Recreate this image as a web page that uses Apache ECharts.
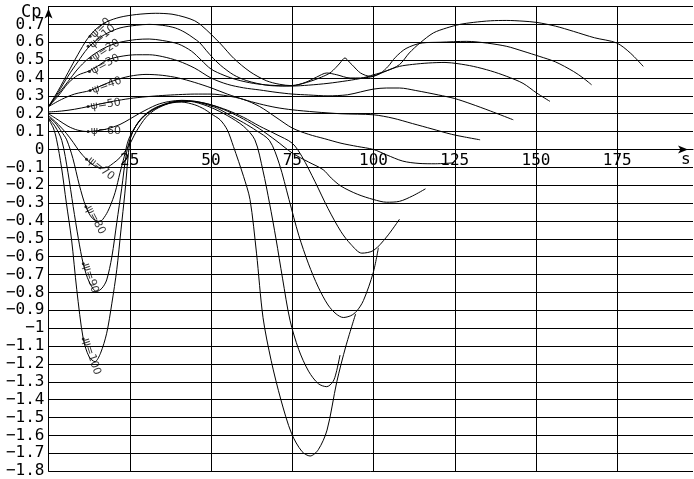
<!DOCTYPE html>
<html><head><meta charset="utf-8">
<script src="https://cdn.jsdelivr.net/npm/echarts@6/dist/echarts.min.js"></script>
<style>html,body{margin:0;padding:0;background:#fff}#c{width:694px;height:479px}</style>
</head><body><div id="c"></div><script>
// s values / Cp values
const psi0 = [[0,0.24],[3,0.33],[6,0.43],[9,0.53],[12,0.62],[15,0.68],[18,0.715],[22,0.74],[27,0.755],[33,0.762],[38,0.757],[42,0.74],[45,0.72],[47,0.695],[50,0.645],[53,0.59],[57,0.51],[62,0.435],[67,0.385],[71,0.365],[75,0.357],[79,0.375],[82.5,0.405],[85.6,0.428],[88.7,0.418],[92.8,0.40],[96,0.40],[100,0.418],[104,0.44],[108,0.475],[111,0.54],[114.3,0.596],[118.4,0.652],[122.5,0.68],[126.6,0.70],[130.7,0.711],[136,0.72],[141,0.722],[146,0.718],[150.2,0.711],[156,0.69],[161.5,0.661],[168,0.625],[174.8,0.596],[179,0.54],[183,0.465]];
const psi10 = [[0,0.24],[3,0.32],[6,0.41],[9,0.49],[12,0.565],[15,0.615],[18,0.65],[22,0.68],[27,0.695],[31,0.70],[35,0.695],[39,0.68],[42,0.655],[44.5,0.625],[46.6,0.596],[48.5,0.555],[50.7,0.51],[53,0.47],[56.9,0.418],[61,0.385],[67,0.36],[72,0.355],[76,0.36],[80.5,0.381],[84,0.405],[86.6,0.428],[88.5,0.46],[89.7,0.484],[91.2,0.512],[92.5,0.49],[93.4,0.474],[96,0.428],[99.1,0.409],[102.2,0.428],[104.5,0.465],[106.7,0.515],[110,0.565],[115,0.596],[120.5,0.6],[128.7,0.605],[135,0.595],[141,0.577],[146,0.55],[151.2,0.52],[156,0.49],[161.5,0.437],[164.5,0.40],[167.1,0.362]];
const psi20 = [[0,0.24],[3,0.31],[6,0.38],[9,0.45],[12,0.505],[15,0.545],[18,0.575],[22,0.60],[27,0.615],[31,0.618],[35,0.61],[40,0.59],[44,0.55],[47,0.50],[50,0.45],[54,0.415],[58,0.39],[63,0.37],[68,0.36],[75,0.355],[80,0.36],[86,0.37],[92,0.385],[97,0.40],[100,0.409],[104,0.44],[108,0.465],[112,0.476],[117,0.484],[122,0.487],[126,0.48],[130.7,0.465],[136,0.44],[141,0.409],[146,0.37],[150.2,0.316],[154.3,0.269]];
const psi30 = [[0,0.24],[3,0.30],[6,0.37],[9,0.415],[12.6,0.44],[15,0.465],[18,0.50],[22,0.52],[27,0.53],[31,0.53],[35,0.52],[40,0.495],[45,0.455],[50,0.40],[55,0.365],[60,0.345],[65,0.333],[70,0.32],[75,0.31],[80,0.305],[86,0.30],[92,0.306],[96,0.322],[100,0.338],[104,0.344],[108,0.344],[113,0.33],[120,0.305],[125,0.285],[130,0.255],[136,0.215],[143,0.166]];
const psi40 = [[0,0.24],[4,0.28],[8,0.31],[12.8,0.33],[16,0.355],[20,0.385],[25,0.41],[30,0.42],[35,0.415],[40,0.40],[45,0.375],[50,0.345],[55,0.31],[60,0.28],[65,0.255],[70,0.235],[75,0.222],[82,0.21],[90,0.20],[100,0.194],[106,0.175],[112,0.145],[118,0.115],[124,0.085],[128,0.07],[132.8,0.054]];
const psi50 = [[0,0.21],[4,0.215],[8,0.225],[12.2,0.24],[16,0.255],[20,0.27],[25,0.285],[30,0.295],[35,0.302],[40,0.307],[45,0.31],[50,0.31],[55,0.30],[60,0.28],[65,0.24],[70,0.18],[75,0.12],[80,0.085],[85,0.06],[90,0.035],[95,0.017],[100,0.0],[104,-0.03],[109,-0.065],[114,-0.078],[119,-0.08],[124.5,-0.075]];
const psi60 = [[0,0.20],[3,0.165],[6,0.13],[9,0.108],[12.2,0.10],[15,0.105],[18,0.115],[22,0.14],[25,0.17],[28.2,0.204],[33.3,0.25],[37,0.268],[41,0.275],[45,0.27],[50,0.25],[55,0.215],[60,0.17],[65,0.115],[70,0.05],[75,-0.02],[80,-0.07],[84.5,-0.113],[87,-0.16],[90,-0.205],[95,-0.25],[100,-0.28],[104,-0.295],[108,-0.29],[112,-0.26],[116,-0.22]];
const psi70 = [[0,0.19],[3,0.14],[5.5,0.09],[7.6,0.04],[9.5,-0.01],[11.7,-0.055],[14,-0.09],[15.8,-0.104],[18,-0.10],[20,-0.076],[22,-0.045],[24.6,0.017],[27,0.10],[30,0.18],[33,0.225],[37,0.257],[41,0.27],[45,0.268],[50,0.25],[55,0.22],[60,0.18],[65,0.13],[70,0.085],[75,0.035],[78,-0.04],[82,-0.18],[86,-0.33],[90,-0.46],[93,-0.53],[96.4,-0.58],[100,-0.565],[104,-0.49],[108,-0.39]];
const psi80 = [[0,0.18],[2,0.15],[4,0.10],[5.6,0.054],[7.5,-0.05],[9.5,-0.20],[11.5,-0.32],[13.5,-0.385],[15.8,-0.403],[17.5,-0.37],[18.9,-0.32],[20.5,-0.24],[22,-0.13],[23.3,-0.04],[24.6,0.054],[26.5,0.12],[29,0.18],[32,0.22],[36,0.255],[40,0.27],[44,0.27],[48,0.255],[52,0.23],[56,0.19],[60,0.15],[64,0.105],[68,0.05],[71,-0.08],[74,-0.28],[77,-0.48],[80,-0.64],[83,-0.77],[86,-0.87],[88.5,-0.92],[90.7,-0.94],[93,-0.93],[94.8,-0.905],[96.9,-0.845],[99.9,-0.69],[101.5,-0.55]];
const psi90 = [[0,0.175],[2,0.13],[4.1,0.05],[6,-0.13],[7.6,-0.32],[9.2,-0.50],[10.7,-0.64],[12.5,-0.74],[14.8,-0.795],[16.5,-0.775],[17.9,-0.73],[19.5,-0.60],[21,-0.41],[22.5,-0.22],[24,-0.02],[25.5,0.08],[27.5,0.15],[30,0.20],[33,0.235],[37,0.26],[41,0.272],[45,0.265],[50,0.235],[55,0.19],[60,0.13],[63.5,0.054],[66,-0.12],[68,-0.30],[70,-0.50],[72,-0.72],[74.3,-0.955],[77,-1.12],[80,-1.24],[83,-1.31],[85.6,-1.327],[87.5,-1.30],[88.5,-1.25],[89.7,-1.15]];
const psi100 = [[0,0.17],[1.5,0.12],[2.5,0.054],[4,-0.10],[5.5,-0.30],[7.1,-0.505],[8.7,-0.785],[10.7,-1.06],[12.5,-1.16],[14.3,-1.187],[16,-1.14],[17.9,-1.028],[19.5,-0.86],[21,-0.673],[22.3,-0.45],[23.5,-0.244],[25.1,0.054],[26.5,0.12],[28.5,0.17],[31,0.21],[34,0.24],[37.5,0.26],[41,0.265],[45,0.25],[48,0.225],[50,0.20],[52.8,0.166],[55,0.11],[56.9,0.017],[60,-0.15],[62,-0.28],[64,-0.58],[66,-0.94],[68.5,-1.18],[71.5,-1.40],[74.8,-1.59],[78,-1.69],[80.5,-1.715],[83,-1.68],[85.7,-1.57],[88.7,-1.30],[91.5,-1.10],[94.5,-0.92]];

const curves = [psi0, psi10, psi20, psi30, psi40, psi50, psi60, psi70, psi80, psi90, psi100];
const psiNames = ['ψ=0','ψ=10','ψ=20','ψ=30','ψ=40','ψ=50','ψ=60','ψ=70','ψ=80','ψ=90','ψ=100'];
const labelAnchors = [[12.8,0.633],[12.2,0.577],[13,0.51],[12.6,0.437],[12.8,0.33],[12.2,0.24],[12.2,0.10],[11.7,-0.055],[11.5,-0.32],[10.7,-0.64],[10.7,-1.06]];
const yMin = -1.8, yMax = 0.8, xMax = 198.3;

// layout / styles (not data)
const labelRotate = [45, 40, 33, 28, 20, 8, 0, -38, -62, -72, -72];
const FONT = '"DejaVu Sans Mono", monospace';
const W = 694, H = 479, G = {left: 48.5, right: 1, top: 6.5, bottom: 7.8};
const plotH = H - G.top - G.bottom;
const xAxisOffset = -plotH * (0 - yMin) / (yMax - yMin); // lift x axis to Cp = 0

const chart = echarts.init(document.getElementById('c'), null, {renderer: 'canvas'});
const series = curves.map((d, i) => ({
  type: 'line', name: psiNames[i], data: d, smooth: 0.3, showSymbol: false, symbol: 'none',
  lineStyle: {color: '#000', width: 1}, silent: true, z: 3
}));
series.push({
  type: 'scatter', data: labelAnchors.map((p, i) => ({value: p, name: psiNames[i], label: {rotate: labelRotate[i]}})),
  symbolSize: 3, itemStyle: {color: '#000'}, silent: true, z: 5,
  label: {show: true, position: 'right', distance: 1, formatter: '{b}', fontSize: 11, color: '#000', fontFamily: 'DejaVu Sans'}
});

chart.setOption({
  animation: false,
  backgroundColor: '#fff',
  grid: Object.assign({containLabel: false, outerBoundsMode: 'none'}, G),
  xAxis: {
    type: 'value', min: 0, max: xMax, interval: 25, position: 'bottom', offset: xAxisOffset,
    axisLine: {onZero: false, lineStyle: {color: '#000', width: 1}, symbol: ['none', 'arrow'], symbolSize: [6, 10], symbolOffset: [0, -5]},
    axisTick: {show: false},
    axisLabel: {color: '#000', fontFamily: FONT, fontSize: 16, margin: 3, showMaxLabel: false, showMinLabel: false,
      formatter: v => (v > 0 && Math.abs(v % 25) < 1e-6) ? String(v) : ''},
    splitLine: {show: true, showMaxLine: false, lineStyle: {color: '#000', width: 1}}
  },
  yAxis: {
    type: 'value', min: yMin, max: yMax, interval: 0.1,
    axisLine: {show: true, onZero: false, lineStyle: {color: '#000', width: 1}, symbol: ['none', 'arrow'], symbolSize: [6, 10], symbolOffset: [0, -2]},
    axisTick: {show: false},
    axisLabel: {color: '#000', fontFamily: FONT, fontSize: 16, margin: 4,
      formatter: v => { const r = Math.round(v * 10) / 10; if (r > 0.75) return ''; return (r < 0 ? '\u2212' : '') + String(Math.abs(r)); }},
    splitLine: {show: true, lineStyle: {color: '#000', width: 1}}
  },
  graphic: [
    {type: 'text', left: 21, top: 4, silent: true, style: {text: 'Cp', font: '17px ' + FONT, fill: '#000'}},
    {type: 'text', left: 681, top: 152, silent: true, style: {text: 's', font: '16px ' + FONT, fill: '#000'}}
  ],
  series: series
});
</script></body></html>
